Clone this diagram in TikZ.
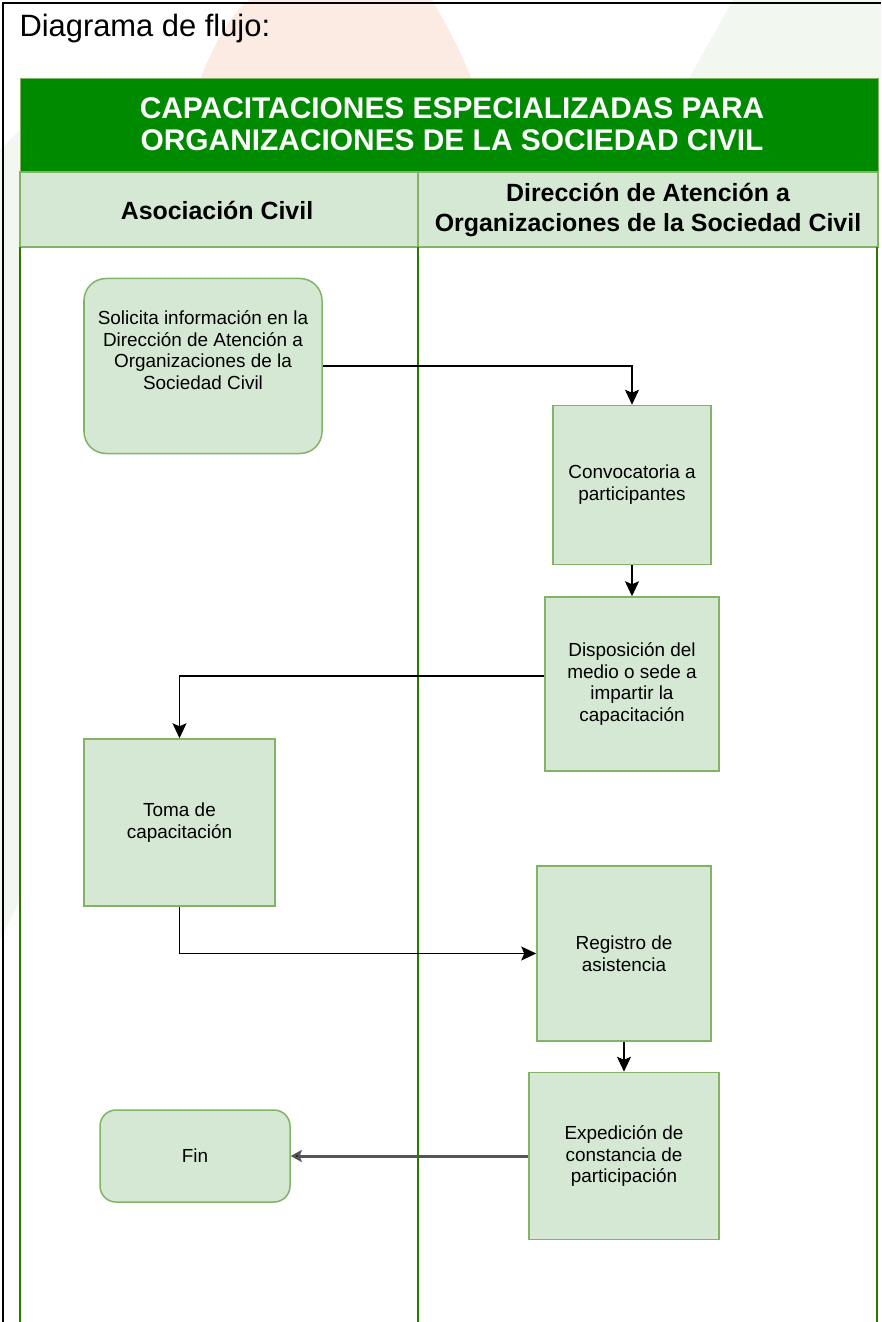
\documentclass[tikz,border=0pt]{standalone}
\usepackage{fontspec}
\setmainfont{Liberation Sans}
\usetikzlibrary{arrows.meta,positioning}

\definecolor{titlegreen}{HTML}{008A00}
\definecolor{lanefill}{HTML}{D5E8D4}
\definecolor{laneline}{HTML}{82B366}
\definecolor{lanedark}{HTML}{2D7600}
\definecolor{wmorange}{HTML}{FCEBE3}
\definecolor{wmgreen}{HTML}{F2F7EF}
\definecolor{endline}{HTML}{555555}

\tikzset{
  proc/.style={draw=laneline, fill=lanefill, line width=1.5bp, align=center,
    font=\fontsize{19}{22}\selectfont, inner sep=2bp},
  term/.style={proc, rounded corners=22bp},
  flow/.style={draw=black, line width=1.4bp, -{Stealth[length=15bp,width=14bp,inset=3bp]}},
  lanehead/.style={font=\bfseries\fontsize{25}{31}\selectfont, align=center},
}

\begin{document}
\begin{tikzpicture}[x=1bp,y=-1bp]
  \useasboundingbox (0,0) rectangle (881,1322);
  % watermark behind the chart
  \fill[wmorange] (200,80) .. controls (215,40) and (235,8) .. (250,0) -- (432,0) .. controls (450,30) and (462,55) .. (472,80) -- cycle;
  \fill[wmgreen] (688,80) -- (733,0) -- (881,0) -- (881,80) -- cycle;
  \fill[wmgreen] (0,150) -- (20,130) -- (20,900) -- (0,940) -- cycle;
  % page frame
  \draw[line width=2bp] (3,1322) -- (3,3) -- (881,3);
  \node[anchor=west, font=\fontsize{31}{36}\selectfont] (caption) at (16,29) {Diagrama de flujo:};

  % pool and lanes
  \fill[white] (20,247) rectangle (878,1322);
  \filldraw[fill=titlegreen, draw=laneline] (20,78) rectangle (878,172);
  \node[font=\bfseries\fontsize{30}{32}\selectfont, text=white, align=center] (pool) at (452,124)
    {CAPACITACIONES ESPECIALIZADAS PARA\\ORGANIZACIONES DE LA SOCIEDAD CIVIL};
  \filldraw[fill=lanefill, draw=laneline, line width=1.2bp] (20,172) rectangle (418,247);
  \filldraw[fill=lanefill, draw=laneline, line width=1.2bp] (418,172) rectangle (878,247);
  \node[lanehead] (lane1) at (217,210) {Asociación Civil};
  \node[lanehead] (lane2) at (648,210) {Dirección de Atención a\\Organizaciones de la Sociedad Civil};
  \draw[lanedark, line width=1.2bp] (20,247) -- (20,1322);
  \draw[lanedark, line width=1.2bp] (418,247) -- (418,1322);
  \draw[lanedark, line width=1.2bp] (877,247) -- (877,1322);

  % steps
  \node[term, minimum width=238bp, minimum height=175bp] (solicita) at (203,366)
    {Solicita información en la\\Dirección de Atención a\\Organizaciones de la\\Sociedad Civil\\[10bp]};
  \node[proc, minimum width=158bp, minimum height=159bp] (convoca) at (632,485)
    {Convocatoria a\\participantes};
  \node[proc, minimum width=174bp, minimum height=174bp] (dispone) at (632,684)
    {Disposición del\\medio o sede a\\impartir la\\capacitación};
  \node[proc, minimum width=191bp, minimum height=167bp] (toma) at (179.5,822.5)
    {Toma de\\capacitación};
  \node[proc, minimum width=174bp, minimum height=175bp] (registro) at (624,953.5)
    {Registro de\\asistencia};
  \node[proc, minimum width=190bp, minimum height=167bp] (expide) at (624,1156)
    {Expedición de\\constancia de\\participación};
  \node[term, rounded corners=16bp, minimum width=190bp, minimum height=92bp] (fin) at (195,1156)
    {Fin};

  % connectors
  \draw[flow] (solicita.east) -| (convoca.north);
  \draw[flow] (convoca) -- (dispone);
  \draw[flow] ([yshift=8bp]dispone.west) -| (toma.north);
  \draw[flow] (toma.south) |- (registro.west);
  \draw[flow] (registro) -- (expide);
  \draw[flow, draw=endline, line width=3bp, -{Stealth[length=11bp,width=12bp,inset=2bp,fill=black]}] (expide.west) -- (fin.east);
\end{tikzpicture}
\end{document}
